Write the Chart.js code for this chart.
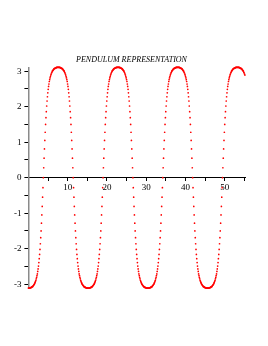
<!DOCTYPE html>
<html>
<head>
<meta charset="utf-8">
<script src="https://cdn.jsdelivr.net/npm/chart.js@4/dist/chart.umd.min.js"></script>
<style>
  body { margin: 0; background: #fff; }
</style>
</head>
<body>
<canvas id="penduloChart" width="268" height="346"></canvas>
<script>
const titulo = "PENDULUM REPRESENTATION";

// tiempo entre muestras (eje x = indice * paso)
const paso = 0.095;

// angulo del pendulo, una fila por cuarto de oscilacion
const theta = [
  -3.11,-3.11,-3.11,-3.11,-3.11,-3.10,-3.10,-3.09,-3.09,-3.08,-3.07,-3.07,-3.06,-3.04,-3.03,-3.01,-3.00,-2.97,-2.95,-2.92,-2.89,-2.85,-2.81,-2.76,-2.71,-2.64,-2.57,-2.49,-2.39,-2.28,-2.16,-2.02,-1.86,-1.69,-1.50,-1.28,-1.05,-0.81,-0.55,-0.28,
  0.00,0.28,0.55,0.81,1.05,1.28,1.50,1.69,1.86,2.02,2.16,2.28,2.39,2.49,2.57,2.64,2.71,2.76,2.81,2.85,2.89,2.92,2.95,2.97,3.00,3.01,3.03,3.04,3.06,3.07,3.07,3.08,3.09,3.09,3.10,3.10,3.11,3.11,3.11,3.11,
  3.11,3.11,3.11,3.11,3.11,3.10,3.10,3.09,3.09,3.08,3.07,3.07,3.06,3.04,3.03,3.01,3.00,2.97,2.95,2.92,2.89,2.85,2.81,2.76,2.71,2.64,2.57,2.49,2.39,2.28,2.16,2.02,1.86,1.69,1.50,1.28,1.05,0.81,0.55,0.28,
  0.00,-0.28,-0.55,-0.81,-1.05,-1.28,-1.50,-1.69,-1.86,-2.02,-2.16,-2.28,-2.39,-2.49,-2.57,-2.64,-2.71,-2.76,-2.81,-2.85,-2.89,-2.92,-2.95,-2.97,-3.00,-3.01,-3.03,-3.04,-3.06,-3.07,-3.07,-3.08,-3.09,-3.09,-3.10,-3.10,-3.11,-3.11,-3.11,-3.11,
  -3.11,-3.11,-3.11,-3.11,-3.11,-3.10,-3.10,-3.09,-3.09,-3.08,-3.07,-3.07,-3.06,-3.04,-3.03,-3.01,-3.00,-2.97,-2.95,-2.92,-2.89,-2.85,-2.81,-2.76,-2.71,-2.64,-2.57,-2.49,-2.39,-2.28,-2.16,-2.02,-1.86,-1.69,-1.50,-1.28,-1.05,-0.81,-0.55,-0.28,
  0.00,0.28,0.55,0.81,1.05,1.28,1.50,1.69,1.86,2.02,2.16,2.28,2.39,2.49,2.57,2.64,2.71,2.76,2.81,2.85,2.89,2.92,2.95,2.97,3.00,3.01,3.03,3.04,3.06,3.07,3.07,3.08,3.09,3.09,3.10,3.10,3.11,3.11,3.11,3.11,
  3.11,3.11,3.11,3.11,3.11,3.10,3.10,3.09,3.09,3.08,3.07,3.07,3.06,3.04,3.03,3.01,3.00,2.97,2.95,2.92,2.89,2.85,2.81,2.76,2.71,2.64,2.57,2.49,2.39,2.28,2.16,2.02,1.86,1.69,1.50,1.28,1.05,0.81,0.55,0.28,
  0.00,-0.28,-0.55,-0.81,-1.05,-1.28,-1.50,-1.69,-1.86,-2.02,-2.16,-2.28,-2.39,-2.49,-2.57,-2.64,-2.71,-2.76,-2.81,-2.85,-2.89,-2.92,-2.95,-2.97,-3.00,-3.01,-3.03,-3.04,-3.06,-3.07,-3.07,-3.08,-3.09,-3.09,-3.10,-3.10,-3.11,-3.11,-3.11,-3.11,
  -3.11,-3.11,-3.11,-3.11,-3.11,-3.10,-3.10,-3.09,-3.09,-3.08,-3.07,-3.07,-3.06,-3.04,-3.03,-3.01,-3.00,-2.97,-2.95,-2.92,-2.89,-2.85,-2.81,-2.76,-2.71,-2.64,-2.57,-2.49,-2.39,-2.28,-2.16,-2.02,-1.86,-1.69,-1.50,-1.28,-1.05,-0.81,-0.55,-0.28,
  0.00,0.28,0.55,0.81,1.05,1.28,1.50,1.69,1.86,2.02,2.16,2.28,2.39,2.49,2.57,2.64,2.71,2.76,2.81,2.85,2.89,2.92,2.95,2.97,3.00,3.01,3.03,3.04,3.06,3.07,3.07,3.08,3.09,3.09,3.10,3.10,3.11,3.11,3.11,3.11,
  3.11,3.11,3.11,3.11,3.11,3.10,3.10,3.09,3.09,3.08,3.07,3.07,3.06,3.04,3.03,3.01,3.00,2.97,2.95,2.92,2.89,2.85,2.81,2.76,2.71,2.64,2.57,2.49,2.39,2.28,2.16,2.02,1.86,1.69,1.50,1.28,1.05,0.81,0.55,0.28,
  0.00,-0.28,-0.55,-0.81,-1.05,-1.28,-1.50,-1.69,-1.86,-2.02,-2.16,-2.28,-2.39,-2.49,-2.57,-2.64,-2.71,-2.76,-2.81,-2.85,-2.89,-2.92,-2.95,-2.97,-3.00,-3.01,-3.03,-3.04,-3.06,-3.07,-3.07,-3.08,-3.09,-3.09,-3.10,-3.10,-3.11,-3.11,-3.11,-3.11,
  -3.11,-3.11,-3.11,-3.11,-3.11,-3.10,-3.10,-3.09,-3.09,-3.08,-3.07,-3.07,-3.06,-3.04,-3.03,-3.01,-3.00,-2.97,-2.95,-2.92,-2.89,-2.85,-2.81,-2.76,-2.71,-2.64,-2.57,-2.49,-2.39,-2.28,-2.16,-2.02,-1.86,-1.69,-1.50,-1.28,-1.05,-0.81,-0.55,-0.28,
  0.00,0.28,0.55,0.81,1.05,1.28,1.50,1.69,1.86,2.02,2.16,2.28,2.39,2.49,2.57,2.64,2.71,2.76,2.81,2.85,2.89,2.92,2.95,2.97,3.00,3.01,3.03,3.04,3.06,3.07,3.07,3.08,3.09,3.09,3.10,3.10,3.11,3.11,3.11,3.11,
  3.11,3.11,3.11,3.11,3.11,3.10,3.10,3.09,3.09,3.08,3.07,3.07,3.06,3.04,3.03,3.01,3.00,2.97,2.95,2.92,2.89
];

// marcas de los ejes (las que no llevan numero son marcas menores)
const ticksX = [5, 10, 15, 20, 25, 30, 35, 40, 45, 50, 55];
const etiquetasX = [10, 20, 30, 40, 50];
const ticksY = [-3, -2.5, -2, -1.5, -1, -0.5, 0, 0.5, 1, 1.5, 2, 2.5, 3];

const puntos = theta.map((v, i) => ({ x: i * paso, y: v }));
const fuente = "'Liberation Serif', 'DejaVu Serif', serif";

new Chart(document.getElementById("penduloChart"), {
  type: "scatter",
  data: {
    datasets: [{
      label: "theta",
      data: puntos,
      pointRadius: 0.85,
      pointHoverRadius: 0.85,
      pointBorderWidth: 0,
      pointBackgroundColor: "#ff0000",
      showLine: false,
      clip: 5
    }]
  },
  options: {
    responsive: false,
    animation: false,
    layout: { padding: { top: 50, left: 0, right: 5, bottom: 57.9 } },
    plugins: {
      legend: { display: false },
      tooltip: { enabled: false },
      title: {
        display: true,
        text: titulo,
        color: "#000",
        font: { family: fuente, size: 8, style: "italic", weight: "normal", lineHeight: 1.2 },
        padding: { top: 5, bottom: 2.7 }
      }
    },
    scales: {
      x: {
        type: "linear",
        min: 0,
        max: 55.2,
        position: { y: 0 },
        afterBuildTicks: scale => { scale.ticks = ticksX.map(v => ({ value: v })); },
        grid: { drawOnChartArea: false, tickLength: 3, tickColor: "#000" },
        border: { color: "#000", width: 1 },
        ticks: {
          autoSkip: false,
          maxRotation: 0,
          padding: 2,
          color: "#000",
          font: { family: fuente, size: 9 },
          callback: v => etiquetasX.includes(v) ? String(v) : ""
        }
      },
      y: {
        type: "linear",
        min: -3.11,
        max: 3.11,
        position: "left",
        afterBuildTicks: scale => { scale.ticks = ticksY.map(v => ({ value: v })); },
        afterFit: scale => { scale.width = 28.4; },
        grid: { drawOnChartArea: false, tickLength: 4, tickColor: "#000" },
        border: { color: "#8a8a8a", width: 1.5 },
        ticks: {
          autoSkip: false,
          padding: 3,
          color: "#000",
          font: { family: fuente, size: 9 },
          callback: v => Number.isInteger(v) ? String(v) : ""
        }
      },
      // eje vacio a la derecha: solo reserva el margen para que el titulo quede centrado
      margen: {
        type: "linear",
        position: "right",
        min: -3.11,
        max: 3.11,
        afterFit: scale => { scale.width = 17.7; },
        grid: { display: false, drawTicks: false },
        border: { display: false },
        ticks: { display: false }
      }
    }
  }
});
</script>
</body>
</html>
